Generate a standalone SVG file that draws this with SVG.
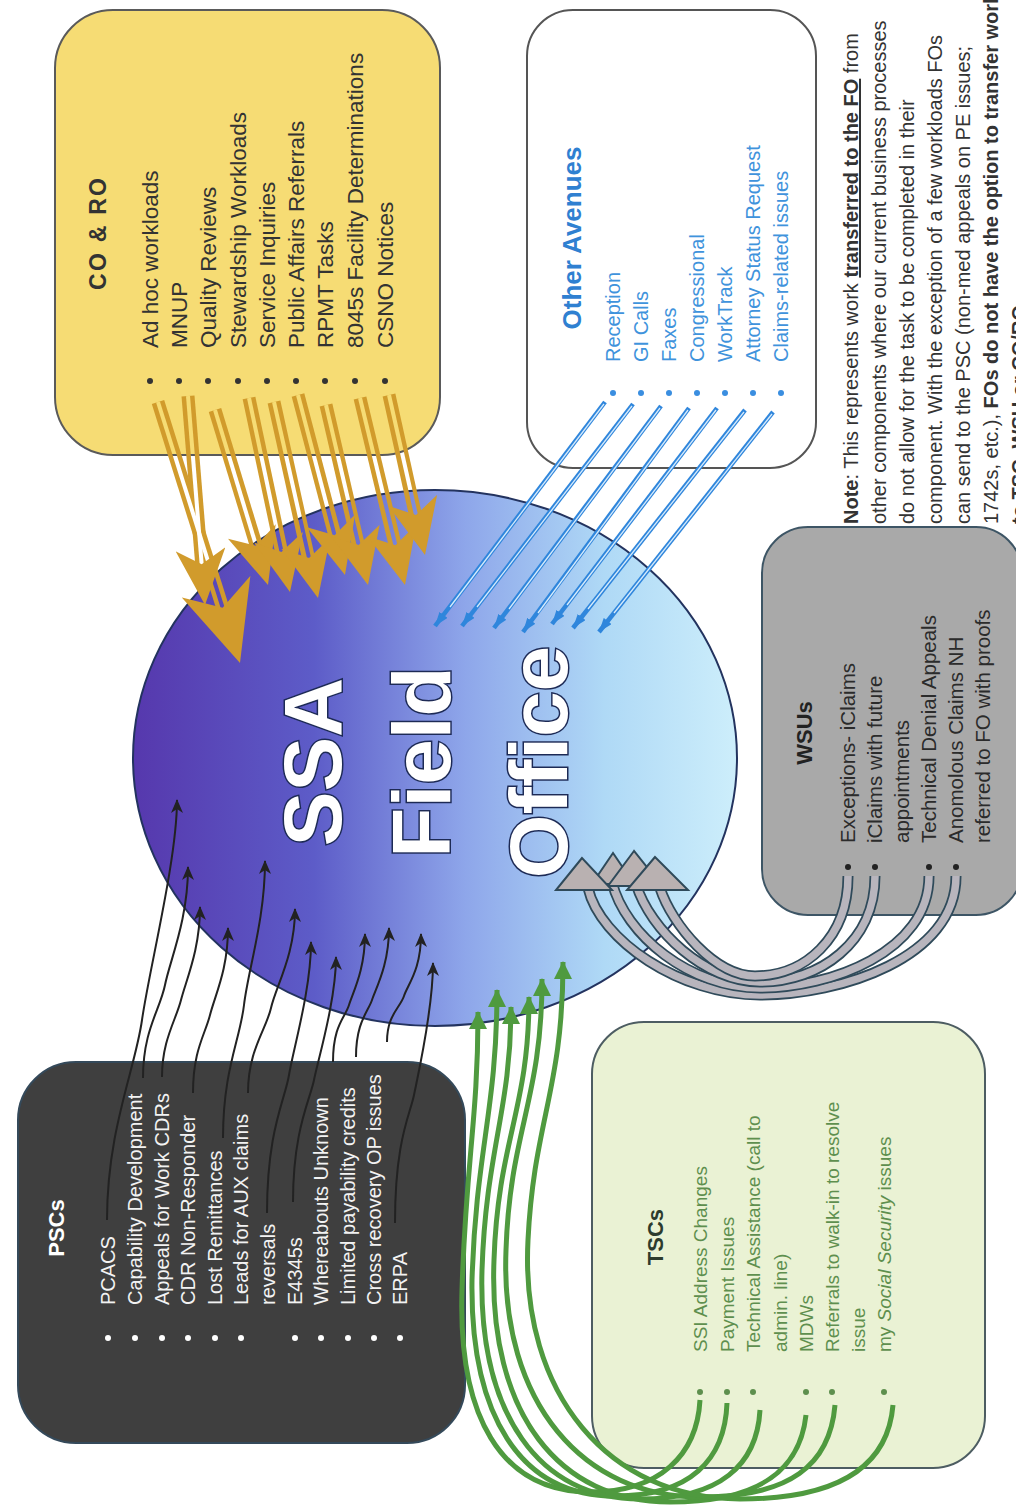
<svg xmlns="http://www.w3.org/2000/svg" width="1016" height="1507" viewBox="0 0 1016 1507">
<defs>
  <linearGradient id="foGrad" gradientUnits="userSpaceOnUse" x1="133" y1="0" x2="737" y2="0">
    <stop offset="0" stop-color="#5638ad"/>
    <stop offset="0.3" stop-color="#5d5cc8"/>
    <stop offset="0.55" stop-color="#8ea6ea"/>
    <stop offset="0.78" stop-color="#afd9f6"/>
    <stop offset="1" stop-color="#cdeefb"/>
  </linearGradient>
  <marker id="mBlk" viewBox="0 0 14 12" refX="13" refY="6" markerWidth="14" markerHeight="12" markerUnits="userSpaceOnUse" orient="auto">
    <path d="M0,0 L14,6 L0,12 L4,6 Z" fill="#222"/>
  </marker>
  <marker id="mGrn" viewBox="0 0 18 18" refX="17" refY="9" markerWidth="18" markerHeight="18" markerUnits="userSpaceOnUse" orient="auto">
    <path d="M0,0 L18,9 L0,18 Z" fill="#4f9a3f"/>
  </marker>
  <marker id="mBlu" viewBox="0 0 14 10" refX="14" refY="5" markerWidth="14" markerHeight="10" markerUnits="userSpaceOnUse" orient="auto">
    <path d="M0,0 L14,5 L0,10 Z" fill="#2f86dc"/>
  </marker>
  <marker id="mOrgBig" viewBox="0 0 80 72" refX="80" refY="36" markerWidth="80" markerHeight="72" markerUnits="userSpaceOnUse" orient="auto">
    <path d="M0,0 L80,36 L0,72 L22,36 Z" fill="#d19b2c"/>
  </marker>
  <marker id="mOrg" viewBox="0 0 56 50" refX="56" refY="25" markerWidth="56" markerHeight="50" markerUnits="userSpaceOnUse" orient="auto">
    <path d="M0,0 L56,25 L0,50 L15,25 Z" fill="#d19b2c"/>
  </marker>
  <mask id="orgMask" maskUnits="userSpaceOnUse" x="0" y="0" width="1016" height="1507">
    <rect x="0" y="0" width="1016" height="1507" fill="#fff"/>
    <g stroke="#000" stroke-width="4" fill="none">
      <path d="M158,402 L240,663"/><path d="M188,396 L205,605"/><path d="M215,410 L268,585"/>
      <path d="M249,398 L290,592"/><path d="M274,402 L318,598"/><path d="M298,395 L345,575"/>
      <path d="M326,405 L368,585"/><path d="M360,398 L405,585"/><path d="M389,395 L425,555"/>
    </g>
  </mask>
</defs>
<style>
  text { font-family: "Liberation Sans", Arial, Helvetica, sans-serif; }
  .ttl { font-weight: bold; }
  .co { font-size: 22.5px; fill: #333; }
  .oa { font-size: 20px; fill: #3f93dc; }
  .oat { font-size: 26px; fill: #2f80d1; font-weight: bold; }
  .ws { font-size: 20.5px; fill: #2b2b2b; }
  .ps { font-size: 20px; fill: #f2f2f2; }
  .ts { font-size: 19px; fill: #5e8f4e; }
  .note { font-size: 20px; fill: #333; }
  .box { stroke-width: 2; }
  .blk { fill: none; stroke: #222; stroke-width: 2; marker-end: url(#mBlk); }
  .grn { fill: none; stroke: #4f9a3f; stroke-width: 5; marker-end: url(#mGrn); }
  .tubeO { fill: none; stroke: #2f4a5a; stroke-width: 11; }
  .tubeI { fill: none; stroke: #b8b5bd; stroke-width: 7.5; }
  .head { fill: #b9b1b1; stroke: #2f4a5a; stroke-width: 2; }
</style>

<rect x="0" y="0" width="1016" height="1507" fill="#fff"/>

<!-- central node -->
<g id="ssa-field-office">
  <ellipse cx="435" cy="758" rx="302" ry="268" fill="url(#foGrad)" stroke="#23335f" stroke-width="2"/>
  <g transform="rotate(-90)" font-size="82" font-weight="bold" fill="#fff" stroke="#1d2a55" stroke-width="3" paint-order="stroke" text-anchor="middle">
    <text x="-762" y="341">SSA</text>
    <text x="-762" y="450">Field</text>
    <text x="-762" y="567">Office</text>
  </g>
</g>

<!-- CO & RO -->
<g id="co-ro">
  <rect class="box" x="55" y="10" width="385" height="445" rx="58" fill="#f6dc74" stroke="#5a5a5a"/>
  <g transform="rotate(-90)">
    <text class="ttl" x="-234" y="106" font-size="23" fill="#333" text-anchor="middle" textLength="112" lengthAdjust="spacing">CO &amp; RO</text>
    <g class="co">
      <text x="-348" y="158">Ad hoc workloads</text>
      <text x="-348" y="187">MNUP</text>
      <text x="-348" y="216">Quality Reviews</text>
      <text x="-348" y="246">Stewardship Workloads</text>
      <text x="-348" y="275">Service Inquiries</text>
      <text x="-348" y="304">Public Affairs Referrals</text>
      <text x="-348" y="333">RPMT Tasks</text>
      <text x="-348" y="363">8045s Facility Determinations</text>
      <text x="-348" y="393">CSNO Notices</text>
    </g>
  </g>
  <g fill="#333">
    <circle cx="150" cy="381" r="3"/><circle cx="179" cy="381" r="3"/><circle cx="208" cy="381" r="3"/>
    <circle cx="238" cy="381" r="3"/><circle cx="267" cy="381" r="3"/><circle cx="296" cy="381" r="3"/>
    <circle cx="325" cy="381" r="3"/><circle cx="355" cy="381" r="3"/><circle cx="385" cy="381" r="3"/>
  </g>
</g>

<!-- Other Avenues -->
<g id="other-avenues">
  <rect class="box" x="527" y="10" width="289" height="458" rx="46" fill="#fff" stroke="#555"/>
  <g transform="rotate(-90)">
    <text class="oat" x="-238" y="581" text-anchor="middle">Other Avenues</text>
    <g class="oa">
      <text x="-362" y="620">Reception</text>
      <text x="-362" y="648">GI Calls</text>
      <text x="-362" y="676">Faxes</text>
      <text x="-362" y="704">Congressional</text>
      <text x="-362" y="732">WorkTrack</text>
      <text x="-362" y="760">Attorney Status Request</text>
      <text x="-362" y="788">Claims-related issues</text>
    </g>
  </g>
  <g fill="#3a8ee0">
    <circle cx="613" cy="393" r="3"/><circle cx="641" cy="393" r="3"/><circle cx="669" cy="393" r="3"/>
    <circle cx="697" cy="393" r="3"/><circle cx="725" cy="393" r="3"/><circle cx="753" cy="393" r="3"/>
    <circle cx="781" cy="393" r="3"/>
  </g>
</g>

<!-- Note -->
<g id="note">
  <g transform="rotate(-90)" class="note">
    <text x="-524" y="858"><tspan font-weight="bold">Note</tspan>: This represents work <tspan font-weight="bold" text-decoration="underline">transferred to the FO</tspan> from</text>
    <text x="-524" y="886">other components where our current business processes</text>
    <text x="-524" y="914">do not allow for the task to be completed in their</text>
    <text x="-524" y="942">component. With the exception of a few workloads FOs</text>
    <text x="-524" y="970">can send to the PSC (non-med appeals on PE issues;</text>
    <text x="-524" y="998">1742s, etc.), <tspan font-weight="bold">FOs do not have the option to transfer work</tspan></text>
    <text x="-524" y="1026" font-weight="bold">to TSC, WSU or CO/RO.</text>
  </g>
</g>

<!-- WSUs -->
<g id="wsus">
  <rect class="box" x="762" y="527" width="260" height="388" rx="46" fill="#a9a9a9" stroke="#3d5565"/>
  <g transform="rotate(-90)">
    <text class="ttl" x="-733" y="812" font-size="22" fill="#222" text-anchor="middle">WSUs</text>
    <g class="ws">
      <text x="-843" y="855">Exceptions- iClaims</text>
      <text x="-843" y="882">iClaims with future</text>
      <text x="-843" y="909">appointments</text>
      <text x="-843" y="936">Technical Denial Appeals</text>
      <text x="-843" y="963">Anomolous Claims NH</text>
      <text x="-843" y="990">referred to FO with proofs</text>
    </g>
  </g>
  <g fill="#222">
    <circle cx="848" cy="867" r="3"/><circle cx="875" cy="867" r="3"/>
    <circle cx="929" cy="867" r="3"/><circle cx="956" cy="867" r="3"/>
  </g>
</g>

<!-- PSCs -->
<g id="pscs">
  <rect class="box" x="18" y="1062" width="447" height="381" rx="58" fill="#3f3f3f" stroke="#34495a"/>
  <g transform="rotate(-90)">
    <text class="ttl" x="-1228" y="64" font-size="22" fill="#fff" text-anchor="middle">PSCs</text>
    <g class="ps">
      <text x="-1305" y="115">PCACS</text>
      <text x="-1305" y="142">Capability Development</text>
      <text x="-1305" y="169">Appeals for Work CDRs</text>
      <text x="-1305" y="195">CDR Non-Responder</text>
      <text x="-1305" y="222">Lost Remittances</text>
      <text x="-1305" y="248">Leads for AUX claims</text>
      <text x="-1305" y="275">reversals</text>
      <text x="-1305" y="302">E4345s</text>
      <text x="-1305" y="328">Whereabouts Unknown</text>
      <text x="-1305" y="355">Limited payability credits</text>
      <text x="-1305" y="381">Cross recovery OP issues</text>
      <text x="-1305" y="407">ERPA</text>
    </g>
  </g>
  <g fill="#fff">
    <circle cx="108" cy="1338" r="3"/><circle cx="135" cy="1338" r="3"/><circle cx="162" cy="1338" r="3"/>
    <circle cx="188" cy="1338" r="3"/><circle cx="215" cy="1338" r="3"/><circle cx="241" cy="1338" r="3"/>
    <circle cx="295" cy="1338" r="3"/><circle cx="321" cy="1338" r="3"/><circle cx="348" cy="1338" r="3"/>
    <circle cx="374" cy="1338" r="3"/><circle cx="400" cy="1338" r="3"/>
  </g>
</g>

<!-- TSCs -->
<g id="tscs">
  <rect class="box" x="592" y="1022" width="393" height="446" rx="52" fill="#eaf2d4" stroke="#4d5d62"/>
  <g transform="rotate(-90)">
    <text class="ttl" x="-1237" y="663" font-size="22" fill="#2d3b2d" text-anchor="middle">TSCs</text>
    <g class="ts">
      <text x="-1352" y="707">SSI Address Changes</text>
      <text x="-1352" y="734">Payment Issues</text>
      <text x="-1352" y="760">Technical Assistance (call to</text>
      <text x="-1352" y="787">admin. line)</text>
      <text x="-1352" y="813">MDWs</text>
      <text x="-1352" y="839">Referrals to walk-in to resolve</text>
      <text x="-1352" y="865">issue</text>
      <text x="-1352" y="891">my <tspan font-style="italic">Social Security</tspan> issues</text>
    </g>
  </g>
  <g fill="#5e8f4e">
    <circle cx="700" cy="1392" r="3"/><circle cx="727" cy="1392" r="3"/><circle cx="753" cy="1392" r="3"/>
    <circle cx="806" cy="1392" r="3"/><circle cx="832" cy="1392" r="3"/><circle cx="884" cy="1392" r="3"/>
  </g>
</g>

<!-- connectors -->
<g id="connectors">
  <!-- CO & RO : orange block arrows -->
  <g id="orange-arrows">
    <g mask="url(#orgMask)" stroke="#d19b2c" stroke-width="13" fill="none">
      <path d="M158,402 L230,631"/><path d="M188,396 L203,580"/><path d="M215,410 L261,561"/>
      <path d="M249,398 L285,568"/><path d="M274,402 L312,574"/><path d="M298,395 L339,551"/>
      <path d="M326,405 L362,561"/><path d="M360,398 L399,561"/><path d="M389,395 L419,531"/>
    </g>
    <g stroke="none" fill="none">
      <path d="M158,402 L240,663" marker-end="url(#mOrgBig)"/>
      <path d="M188,396 L205,605" marker-end="url(#mOrg)"/>
      <path d="M215,410 L268,585" marker-end="url(#mOrg)"/>
      <path d="M249,398 L290,592" marker-end="url(#mOrg)"/>
      <path d="M274,402 L318,598" marker-end="url(#mOrg)"/>
      <path d="M298,395 L345,575" marker-end="url(#mOrg)"/>
      <path d="M326,405 L368,585" marker-end="url(#mOrg)"/>
      <path d="M360,398 L405,585" marker-end="url(#mOrg)"/>
      <path d="M389,395 L425,555" marker-end="url(#mOrg)"/>
    </g>
  </g>

  <!-- Other Avenues : blue double lines -->
  <g id="blue-arrows" fill="none">
    <g stroke="#2f86dc" stroke-width="4.5" marker-end="url(#mBlu)">
      <path d="M605,402 L435,626"/><path d="M633,404 L462,626"/><path d="M661,406 L494,628"/>
      <path d="M689,408 L523,632"/><path d="M717,408 L552,624"/><path d="M745,410 L573,628"/>
      <path d="M773,412 L599,632"/>
    </g>
    <g stroke="#d6ebfc" stroke-width="1.3">
      <path d="M604,404 L450,607"/><path d="M632,406 L477,607"/><path d="M660,408 L509,609"/>
      <path d="M688,410 L538,613"/><path d="M716,410 L567,605"/><path d="M744,412 L588,609"/>
      <path d="M772,414 L614,613"/>
    </g>
  </g>

  <!-- PSCs : black arrows -->
  <g id="black-arrows">
    <path class="blk" d="M107,1220 C107,1130 135,1070 142,1020 S177,860 177,800"/>
    <path class="blk" d="M143,1078 C143,1030 160,1010 165,985 S188,920 188,867"/>
    <path class="blk" d="M162,1077 C162,1040 176,1020 181,1000 S200,950 200,907"/>
    <path class="blk" d="M193,1093 C193,1050 205,1035 210,1015 S228,970 228,928"/>
    <path class="blk" d="M223,1138 C223,1070 240,1040 244,1005 S265,920 265,861"/>
    <path class="blk" d="M248,1093 C248,1050 266,1030 271,1008 S295,955 295,909"/>
    <path class="blk" d="M267,1213 C267,1130 285,1100 289,1075 S311,990 311,942"/>
    <path class="blk" d="M293,1202 C293,1130 310,1100 314,1080 S336,1000 336,957"/>
    <path class="blk" d="M333,1062 C333,1025 345,1018 349,1005 S365,970 365,934"/>
    <path class="blk" d="M356,1057 C356,1022 368,1012 372,1000 S389,965 389,928"/>
    <path class="blk" d="M387,1042 C387,1015 400,1008 404,996 S421,970 421,934"/>
    <path class="blk" d="M395,1223 C395,1140 410,1115 414,1095 S433,1010 433,963"/>
  </g>

  <!-- TSCs : green arrows -->
  <g id="green-arrows">
    <path class="grn" d="M700,1400 C697,1455 660,1492 590,1492 C500,1492 458,1415 462,1290 C466,1160 478,1120 478,1012"/>
    <path class="grn" d="M727,1403 C725,1460 690,1496 615,1496 C520,1496 470,1415 472,1280 C476,1150 497,1110 497,990"/>
    <path class="grn" d="M760,1410 C757,1465 720,1499 640,1499 C540,1499 478,1415 482,1270 C486,1150 511,1110 511,1007"/>
    <path class="grn" d="M806,1415 C800,1470 760,1502 670,1502 C560,1502 488,1415 494,1260 C498,1140 529,1110 529,997"/>
    <path class="grn" d="M835,1405 C830,1465 790,1497 700,1497 C585,1497 500,1405 506,1250 C510,1130 542,1100 542,979"/>
    <path class="grn" d="M893,1405 C888,1465 840,1499 740,1499 C610,1499 520,1395 528,1240 C534,1120 563,1090 563,962"/>
  </g>

  <!-- WSUs : grey tube arrows -->
  <g id="grey-arrows">
    <path class="tubeO" d="M588,888 C600,940 680,995 760,995 C840,995 956,958 956,876"/>
    <path class="tubeI" d="M588,888 C600,940 680,995 760,995 C840,995 956,958 956,876"/>
    <path class="tubeO" d="M612,882 C625,935 690,988 760,988 C830,988 929,952 929,876"/>
    <path class="tubeI" d="M612,882 C625,935 690,988 760,988 C830,988 929,952 929,876"/>
    <path class="tubeO" d="M636,884 C650,930 705,982 760,982 C820,982 875,942 875,876"/>
    <path class="tubeI" d="M636,884 C650,930 705,982 760,982 C820,982 875,942 875,876"/>
    <path class="tubeO" d="M660,888 C672,925 715,976 755,976 C805,976 848,938 848,876"/>
    <path class="tubeI" d="M660,888 C672,925 715,976 755,976 C805,976 848,938 848,876"/>
    <polygon class="head" points="613,853 592,884 634,884"/>
    <polygon class="head" points="634,851 608,886 662,886"/>
    <polygon class="head" points="582,858 556,890 612,890"/>
    <polygon class="head" points="655,857 627,890 688,890"/>
  </g>
</g>
</svg>
